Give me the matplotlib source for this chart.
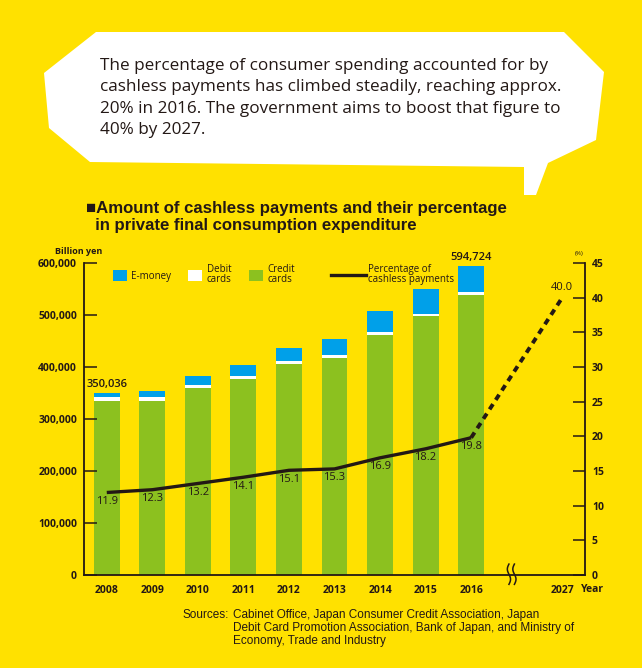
import matplotlib
matplotlib.use("Agg")
import matplotlib.pyplot as plt
import numpy as np
from matplotlib.patches import Polygon, Patch
from matplotlib.lines import Line2D
from matplotlib.ticker import FuncFormatter
import matplotlib.transforms as mtransforms

# ---------------- data ----------------
years = ["2008", "2009", "2010", "2011", "2012", "2013", "2014", "2015", "2016"]
target_year = "2027"
credit = [335000, 334600, 359000, 376900, 405800, 416700, 461500, 497500, 538300]
debit = [7500, 7700, 6400, 6400, 5800, 5800, 5200, 5000, 5200]
emoney = [7536, 11000, 17300, 20500, 25600, 31700, 41000, 46900, 51224]
pct = [11.9, 12.3, 13.2, 14.1, 15.1, 15.3, 16.9, 18.2, 19.8]
pct_target = 40.0
total_labels = {0: "350,036", 8: "594,724"}

YELLOW = "#FFE100"
GREEN = "#8CC11F"
BLUE = "#00A0E9"
DARK = "#231815"

W, H = 642, 668
fig = plt.figure(figsize=(W / 100, H / 100), dpi=100, facecolor=YELLOW)

def fx(px):
    return px / W

def fy(py):
    return 1 - py / H

# speech bubble
bubble_px = [(96, 32), (564, 32), (604, 72), (596, 140), (548, 163), (536, 195),
             (524, 195), (524, 167), (90, 162), (49, 128), (44, 73)]
fig.patches.append(Polygon([(fx(a), fy(b)) for a, b in bubble_px], closed=True,
                           transform=fig.transFigure, facecolor="white",
                           edgecolor="none", zorder=0))
bubble_lines = [
    "The percentage of consumer spending accounted for by",
    "cashless payments has climbed steadily, reaching approx.",
    "20% in 2016. The government aims to boost that figure to",
    "40% by 2027.",
]
for i, ln in enumerate(bubble_lines):
    fig.text(fx(100), fy(66 + i * 21.3), ln, family="Open Sans", fontsize=12.3,
             color=DARK, ha="left", va="center")

# title
fig.text(fx(86), fy(208), "■Amount of cashless payments and their percentage",
         family="Liberation Sans", fontweight="bold", fontsize=12.1, color=DARK,
         ha="left", va="center")
fig.text(fx(86), fy(226), "  in private final consumption expenditure",
         family="Liberation Sans", fontweight="bold", fontsize=12.1, color=DARK,
         ha="left", va="center")

# axes
ax = fig.add_axes([fx(84), fy(575), (585 - 84) / W, (575 - 263) / H])
ax.set_facecolor("none")
x = np.arange(len(years))
x_target = 10
credit_a = np.array(credit)
debit_a = np.array(debit)
emoney_a = np.array(emoney)
bw = 0.57
ax.bar(x, credit_a, width=bw, color=GREEN, linewidth=0)
ax.bar(x, debit_a, bottom=credit_a, width=bw, color="white", linewidth=0)
ax.bar(x, emoney_a, bottom=credit_a + debit_a, width=bw, color=BLUE, linewidth=0)

ax.set_xlim(-0.5, 10.5)
ax.set_ylim(0, 600000)
ax.set_yticks(np.arange(0, 600001, 100000))
ax.yaxis.set_major_formatter(FuncFormatter(lambda v, p: f"{int(v):,}"))
ax.set_xticks(list(x) + [x_target])
ax.set_xticklabels(years + [target_year])
for s in ["top", "right"]:
    ax.spines[s].set_visible(False)
for s in ["left", "bottom"]:
    ax.spines[s].set_color(DARK)
    ax.spines[s].set_linewidth(1.3)
ax.tick_params(axis="y", direction="in", length=9.5, width=1.1, color=DARK,
               pad=5, labelsize=7.5, labelcolor=DARK)
ax.tick_params(axis="x", length=0, pad=7, labelsize=7.5, labelcolor=DARK)
for lab in ax.get_yticklabels() + ax.get_xticklabels():
    lab.set_fontweight("bold")
    lab.set_family("Open Sans")

# bar totals
for i, txt in total_labels.items():
    tot = credit[i] + debit[i] + emoney[i]
    ax.annotate(txt, (x[i], tot), xytext=(0, 2), textcoords="offset points",
                ha="center", va="bottom", fontsize=8, fontweight="semibold",
                family="Open Sans", color=DARK)

# right axis
ax2 = ax.twinx()
ax2.set_ylim(0, 45)
ax2.set_yticks(np.arange(0, 46, 5))
for s in ["top", "left", "bottom"]:
    ax2.spines[s].set_visible(False)
ax2.spines["right"].set_color(DARK)
ax2.spines["right"].set_linewidth(1.3)
ax2.tick_params(axis="y", direction="in", length=9, width=1.1, color=DARK,
                pad=5, labelsize=7.5, labelcolor=DARK)
for lab in ax2.get_yticklabels():
    lab.set_fontweight("bold")
    lab.set_family("Open Sans")

ax2.plot(x, pct, color=DARK, lw=2.4, solid_capstyle="butt", solid_joinstyle="round")
ax2.plot([x[-1], x_target], [pct[-1], pct_target], color=DARK, lw=2.8,
         dashes=(1.6, 1.3))
for xi, v in zip(x, pct):
    ax2.annotate(f"{v:.1f}", (xi, v), xytext=(0, -6.5), textcoords="offset points",
                 ha="center", va="center", fontsize=8, family="Open Sans",
                 color=DARK)
ax2.annotate(f"{pct_target:.1f}", (x_target, pct_target), xytext=(0, 7),
             textcoords="offset points", ha="center", va="center", fontsize=8,
             family="Open Sans", color=DARK)

# axis break mark
bt = mtransforms.blended_transform_factory(ax.transData, ax.transAxes)
t = np.linspace(0, 1, 40)
for cx in (8.83, 8.95):
    ax.plot(cx + 0.035 * np.sin(2 * np.pi * t), -0.03 + 0.065 * t,
            transform=bt, color=DARK, lw=1.1, clip_on=False)

# legends
h1 = [Patch(facecolor=BLUE, edgecolor="none"),
      Patch(facecolor="white", edgecolor="none"),
      Patch(facecolor=GREEN, edgecolor="none")]
leg1 = ax2.legend(h1, ["E-money", "Debit\ncards", "Credit\ncards"], ncol=3,
                  loc="upper left", bbox_to_anchor=(24 / 501, 1 + 4 / 312),
                  frameon=False, borderpad=0, handlelength=1.45,
                  handleheight=1.45, handletextpad=0.45, columnspacing=1.75,
                  prop={"family": "Open Sans", "size": 7},
                  labelspacing=0)
for t_ in leg1.get_texts():
    t_.set_color(DARK)
    t_.set_linespacing(0.95)
ax2.add_artist(leg1)
h2 = [Line2D([0], [0], color=DARK, lw=2.4)]
leg2 = ax2.legend(h2, ["Percentage of\ncashless payments"], loc="upper left",
                  bbox_to_anchor=(242 / 501, 1 + 4 / 312), frameon=False,
                  borderpad=0, handlelength=3.6, handletextpad=0.25,
                  prop={"family": "Open Sans", "size": 7})
for t_ in leg2.get_texts():
    t_.set_color(DARK)
    t_.set_linespacing(0.95)

# axis labels
fig.text(fx(55), fy(251), "Billion yen", family="Open Sans", fontweight="bold",
         fontsize=6.5, color=DARK, ha="left", va="center")
fig.text(fx(579), fy(254), "(%)", family="Open Sans", fontsize=4.5, color=DARK,
         ha="center", va="center")
fig.text(fx(581), fy(589), "Year", family="Open Sans", fontweight="bold",
         fontsize=7.5, color=DARK, ha="left", va="center")

# sources
fig.text(fx(183), fy(615), "Sources:", family="Liberation Sans", fontsize=8.5,
         color=DARK, ha="left", va="center")
src = ["Cabinet Office, Japan Consumer Credit Association, Japan",
       "Debit Card Promotion Association, Bank of Japan, and Ministry of",
       "Economy, Trade and Industry"]
for i, ln in enumerate(src):
    fig.text(fx(233), fy(615 + 13 * i), ln, family="Liberation Sans",
             fontsize=8.5, color=DARK, ha="left", va="center")

fig.savefig("out.png", dpi=100, facecolor=YELLOW)
